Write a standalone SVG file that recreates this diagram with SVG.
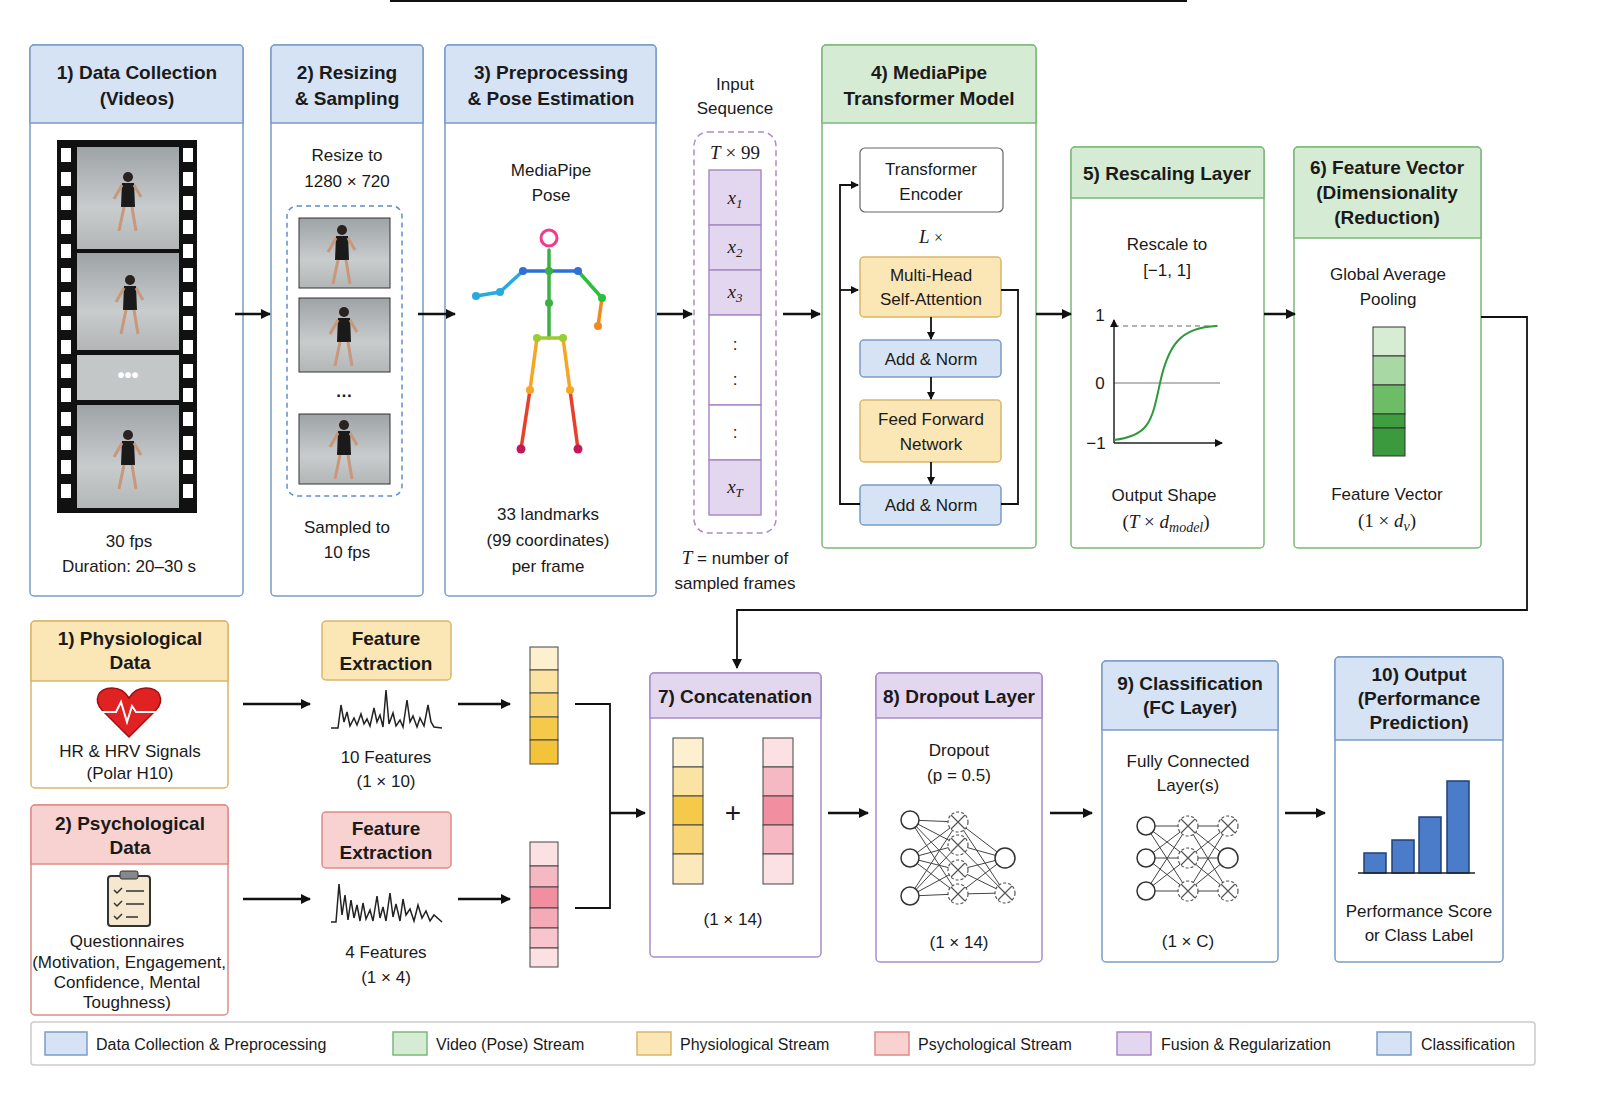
<svg xmlns="http://www.w3.org/2000/svg" width="1600" height="1101" viewBox="0 0 1600 1101">
<defs>
<marker id="ah" markerWidth="10" markerHeight="10" refX="9" refY="5" orient="auto" markerUnits="userSpaceOnUse"><path d="M0,0 L10,5 L0,10 z" fill="#111"/></marker>
<marker id="as" markerWidth="8" markerHeight="8" refX="7" refY="4" orient="auto" markerUnits="userSpaceOnUse"><path d="M0,0 L8,4 L0,8 z" fill="#111"/></marker>
<linearGradient id="ph" x1="0" y1="0" x2="0" y2="1"><stop offset="0" stop-color="#9ea3a6"/><stop offset="0.6" stop-color="#c9cccd"/><stop offset="1" stop-color="#b3b6b7"/></linearGradient>
<g id="person"><circle cx="0" cy="-28" r="5" fill="#2a2220"/><path d="M-6,-22 L6,-22 L7,2 L-7,2 Z" fill="#1a1a1a"/><path d="M-6,-20 L-14,-6 M6,-20 L13,-8 M-4,2 L-9,26 M4,2 L8,26" stroke="#c9977a" stroke-width="3" fill="none"/></g>
</defs>
<style>
text{font-family:"Liberation Sans",Arial,sans-serif;fill:#1a1a1a}
.h{font-size:19px;font-weight:bold;text-anchor:middle}
.t{font-size:17px;text-anchor:middle}
.m{font-family:"Liberation Serif","Times New Roman",serif;font-style:italic;font-size:19px;text-anchor:middle}
.box{fill:#fff;stroke-width:1.5}
.bl{stroke:#7a9cc6}.blf{fill:#d6e3f5;stroke:#7a9cc6;stroke-width:1.5}
.gr{stroke:#7cb87a}.grf{fill:#d5ebd3;stroke:#7cb87a;stroke-width:1.5}
.ye{stroke:#d9b66a}.yef{fill:#fbe6b5;stroke:#d9b66a;stroke-width:1.5}
.pk{stroke:#e08a87}.pkf{fill:#f8d2d0;stroke:#e08a87;stroke-width:1.5}
.pu{stroke:#a98cc8}.puf{fill:#e3d6ef;stroke:#a98cc8;stroke-width:1.5}
.c{stroke:#111;stroke-width:2.5;fill:none}
.cs{stroke:#111;stroke-width:1.8;fill:none}
.nn{fill:#fff;stroke:#333;stroke-width:1.5}
.nx{fill:#fff;stroke:#555;stroke-width:1.2;stroke-dasharray:3 2}
.nl{stroke:#444;stroke-width:1}
</style>
<rect width="1600" height="1101" fill="#fff"/>
<line x1="390" y1="1" x2="1187" y2="1" stroke="#111" stroke-width="2"/>

<g id="n1">
<rect class="box bl" x="30" y="45" width="213" height="551" rx="4"/>
<path class="blf" d="M34,45 H239 a4,4 0 0 1 4,4 V123 H30 V49 a4,4 0 0 1 4,-4z"/>
<text class="h" x="137" y="79">1) Data Collection</text><text class="h" x="137" y="105">(Videos)</text>
<rect x="57" y="140" width="140" height="373" fill="#111"/>
<g fill="#fff">
<rect x="61" y="148" width="10" height="14"/><rect x="61" y="172" width="10" height="14"/><rect x="61" y="196" width="10" height="14"/><rect x="61" y="220" width="10" height="14"/><rect x="61" y="244" width="10" height="14"/><rect x="61" y="268" width="10" height="14"/><rect x="61" y="292" width="10" height="14"/><rect x="61" y="316" width="10" height="14"/><rect x="61" y="340" width="10" height="14"/><rect x="61" y="364" width="10" height="14"/><rect x="61" y="388" width="10" height="14"/><rect x="61" y="412" width="10" height="14"/><rect x="61" y="436" width="10" height="14"/><rect x="61" y="460" width="10" height="14"/><rect x="61" y="484" width="10" height="14"/>
<rect x="183" y="148" width="10" height="14"/><rect x="183" y="172" width="10" height="14"/><rect x="183" y="196" width="10" height="14"/><rect x="183" y="220" width="10" height="14"/><rect x="183" y="244" width="10" height="14"/><rect x="183" y="268" width="10" height="14"/><rect x="183" y="292" width="10" height="14"/><rect x="183" y="316" width="10" height="14"/><rect x="183" y="340" width="10" height="14"/><rect x="183" y="364" width="10" height="14"/><rect x="183" y="388" width="10" height="14"/><rect x="183" y="412" width="10" height="14"/><rect x="183" y="436" width="10" height="14"/><rect x="183" y="460" width="10" height="14"/><rect x="183" y="484" width="10" height="14"/>
</g>
<rect x="77" y="147" width="102" height="102" fill="url(#ph)"/><use href="#person" x="128" y="205"/>
<rect x="77" y="253" width="102" height="97" fill="url(#ph)"/><use href="#person" x="130" y="308"/>
<rect x="77" y="355" width="102" height="45" fill="#c4c7c8"/><text x="128" y="382" font-size="20" font-weight="bold" text-anchor="middle" fill="#fff" style="fill:#fff">•••</text>
<rect x="77" y="405" width="102" height="103" fill="url(#ph)"/><use href="#person" x="128" y="463"/>
<text class="t" x="129" y="547">30 fps</text><text class="t" x="129" y="572">Duration: 20–30 s</text>
</g>

<g id="n2">
<rect class="box bl" x="271" y="45" width="152" height="551" rx="4"/>
<path class="blf" d="M275,45 H419 a4,4 0 0 1 4,4 V123 H271 V49 a4,4 0 0 1 4,-4z"/>
<text class="h" x="347" y="79">2) Resizing</text><text class="h" x="347" y="105">&amp; Sampling</text>
<text class="t" x="347" y="161">Resize to</text><text class="t" x="347" y="187">1280 × 720</text>
<rect x="287" y="206" width="115" height="290" rx="10" fill="none" stroke="#5b8fd0" stroke-width="1.5" stroke-dasharray="5 4"/>
<rect x="299" y="218" width="91" height="70" fill="url(#ph)" stroke="#333"/><use href="#person" x="342" y="258" transform="scale(1)"/>
<rect x="299" y="298" width="91" height="74" fill="url(#ph)" stroke="#333"/><use href="#person" x="344" y="340"/>
<text class="t" x="344" y="397" font-weight="bold">…</text>
<rect x="299" y="414" width="91" height="70" fill="url(#ph)" stroke="#333"/><use href="#person" x="344" y="453"/>
<text class="t" x="347" y="533">Sampled to</text><text class="t" x="347" y="558">10 fps</text>
</g>

<g id="n3">
<rect class="box bl" x="445" y="45" width="211" height="551" rx="4"/>
<path class="blf" d="M449,45 H652 a4,4 0 0 1 4,4 V123 H445 V49 a4,4 0 0 1 4,-4z"/>
<text class="h" x="551" y="79">3) Preprocessing</text><text class="h" x="551" y="105">&amp; Pose Estimation</text>
<text class="t" x="551" y="176">MediaPipe</text><text class="t" x="551" y="201">Pose</text>
<g stroke-width="3.5" stroke-linecap="round" fill="none">
<line x1="549" y1="250" x2="549" y2="271" stroke="#3cb043"/>
<line x1="523" y1="271" x2="578" y2="271" stroke="#2f6fd6"/>
<polyline points="523,271 500,292 476,296" stroke="#28a9e0"/>
<polyline points="578,271 602,298" stroke="#2bbf3f"/>
<polyline points="602,298 598,326" stroke="#f08a1c"/>
<line x1="549" y1="271" x2="549" y2="338" stroke="#3cb043"/>
<line x1="537" y1="338" x2="563" y2="338" stroke="#9acd32"/>
<polyline points="537,338 530,390" stroke="#f5a623"/><polyline points="530,390 521,449" stroke="#e8402a"/>
<polyline points="563,338 570,390" stroke="#f5a623"/><polyline points="570,390 578,449" stroke="#e8402a"/>
</g>
<circle cx="549" cy="238" r="8" fill="none" stroke="#ee3d8a" stroke-width="3"/>
<g fill="#2f6fd6"><circle cx="523" cy="271" r="4"/><circle cx="578" cy="271" r="4"/><circle cx="549" cy="271" r="4" fill="#3cb043"/><circle cx="500" cy="292" r="4" fill="#28a9e0"/><circle cx="476" cy="296" r="4" fill="#28a9e0"/><circle cx="602" cy="298" r="4" fill="#2bbf3f"/><circle cx="598" cy="326" r="4" fill="#f08a1c"/><circle cx="549" cy="303" r="4" fill="#3cb043"/><circle cx="537" cy="338" r="4" fill="#9acd32"/><circle cx="563" cy="338" r="4" fill="#9acd32"/><circle cx="530" cy="390" r="4" fill="#f5a623"/><circle cx="570" cy="390" r="4" fill="#f5a623"/><circle cx="521" cy="449" r="4.5" fill="#c2185b"/><circle cx="578" cy="449" r="4.5" fill="#c2185b"/></g>
<text class="t" x="548" y="520">33 landmarks</text><text class="t" x="548" y="546">(99 coordinates)</text><text class="t" x="548" y="572">per frame</text>
</g>

<g id="seq">
<text class="t" x="735" y="90">Input</text><text class="t" x="735" y="114">Sequence</text>
<rect x="694" y="132" width="82" height="401" rx="14" fill="none" stroke="#a98cc8" stroke-width="1.5" stroke-dasharray="6 4"/>
<text class="m" x="735" y="159"><tspan>T</tspan><tspan font-style="normal"> × 99</tspan></text>
<rect class="puf" x="709" y="170" width="52" height="55"/><text class="m" x="735" y="204">x<tspan font-size="13" dy="4">1</tspan></text>
<rect class="puf" x="709" y="225" width="52" height="45"/><text class="m" x="735" y="253">x<tspan font-size="13" dy="4">2</tspan></text>
<rect class="puf" x="709" y="270" width="52" height="45"/><text class="m" x="735" y="298">x<tspan font-size="13" dy="4">3</tspan></text>
<rect x="709" y="315" width="52" height="90" fill="#fff" stroke="#a98cc8" stroke-width="1.5"/><text class="t" x="735" y="350">:</text><text class="t" x="735" y="385">:</text>
<rect x="709" y="405" width="52" height="55" fill="#fff" stroke="#a98cc8" stroke-width="1.5"/><text class="t" x="735" y="438">:</text>
<rect class="puf" x="709" y="460" width="52" height="55"/><text class="m" x="735" y="493">x<tspan font-size="13" dy="4">T</tspan></text>
<text class="t" x="735" y="564"><tspan font-family="Liberation Serif" font-style="italic" font-size="19">T</tspan> = number of</text><text class="t" x="735" y="589">sampled frames</text>
</g>

<g id="n4">
<rect class="box gr" x="822" y="45" width="214" height="503" rx="4"/>
<path class="grf" d="M826,45 H1032 a4,4 0 0 1 4,4 V123 H822 V49 a4,4 0 0 1 4,-4z"/>
<text class="h" x="929" y="79">4) MediaPipe</text><text class="h" x="929" y="105">Transformer Model</text>
<rect x="860" y="148" width="143" height="64" rx="5" fill="#fff" stroke="#666" stroke-width="1.2"/>
<text class="t" x="931" y="175">Transformer</text><text class="t" x="931" y="200">Encoder</text>
<text class="m" x="931" y="243">L <tspan font-style="normal" font-size="16">×</tspan></text>
<rect class="yef" x="860" y="257" width="141" height="60" rx="4"/><text class="t" x="931" y="281">Multi-Head</text><text class="t" x="931" y="305">Self-Attention</text>
<rect class="blf" x="860" y="340" width="141" height="37" rx="4"/><text class="t" x="931" y="365">Add &amp; Norm</text>
<rect class="yef" x="860" y="400" width="141" height="62" rx="4"/><text class="t" x="931" y="425">Feed Forward</text><text class="t" x="931" y="450">Network</text>
<rect class="blf" x="860" y="485" width="141" height="40" rx="4"/><text class="t" x="931" y="511">Add &amp; Norm</text>
</g>

<g id="n5">
<rect class="box gr" x="1071" y="147" width="193" height="401" rx="4"/>
<path class="grf" d="M1075,147 H1260 a4,4 0 0 1 4,4 V198 H1071 V151 a4,4 0 0 1 4,-4z"/>
<text class="h" x="1167" y="180">5) Rescaling Layer</text>
<text class="t" x="1167" y="250">Rescale to</text><text class="t" x="1167" y="276">[−1, 1]</text>
<line x1="1114" y1="326" x2="1220" y2="326" stroke="#666" stroke-dasharray="5 4"/>
<line x1="1114" y1="383" x2="1220" y2="383" stroke="#777"/>
<line x1="1114" y1="443" x2="1114" y2="320" stroke="#222" stroke-width="1.5" marker-end="url(#as)"/>
<line x1="1114" y1="443" x2="1222" y2="443" stroke="#222" stroke-width="1.5" marker-end="url(#as)"/>
<path d="M1114,440 C1150,436 1152,420 1160,383 C1168,346 1180,327 1217,326" fill="none" stroke="#2e9a3a" stroke-width="2"/>
<text class="t" x="1100" y="321">1</text><text class="t" x="1100" y="389">0</text><text class="t" x="1096" y="449">−1</text>
<text class="t" x="1164" y="501">Output Shape</text>
<text class="m" x="1166" y="528"><tspan font-style="normal">(</tspan>T<tspan font-style="normal"> × </tspan>d<tspan font-size="14" dy="4">model</tspan><tspan font-style="normal" dy="-4">)</tspan></text>
</g>

<g id="n6">
<rect class="box gr" x="1294" y="147" width="187" height="401" rx="4"/>
<path class="grf" d="M1298,147 H1477 a4,4 0 0 1 4,4 V238 H1294 V151 a4,4 0 0 1 4,-4z"/>
<text class="h" x="1387" y="174">6) Feature Vector</text><text class="h" x="1387" y="199">(Dimensionality</text><text class="h" x="1387" y="224">(Reduction)</text>
<text class="t" x="1388" y="280">Global Average</text><text class="t" x="1388" y="305">Pooling</text>
<rect x="1373" y="327" width="32" height="29" fill="#d6ecd3" stroke="#333"/>
<rect x="1373" y="356" width="32" height="29" fill="#a8d8a3" stroke="#333"/>
<rect x="1373" y="385" width="32" height="29" fill="#6cbd66" stroke="#333"/>
<rect x="1373" y="414" width="32" height="14" fill="#3f9e3f" stroke="#333"/>
<rect x="1373" y="428" width="32" height="28" fill="#3a9a3d" stroke="#333"/>
<text class="t" x="1387" y="500">Feature Vector</text>
<text class="m" x="1387" y="527"><tspan font-style="normal">(1 × </tspan>d<tspan font-size="14" dy="4">v</tspan><tspan font-style="normal" dy="-4">)</tspan></text>
</g>

<g id="p1">
<rect class="box ye" x="31" y="621" width="197" height="167" rx="4"/>
<path class="yef" d="M35,621 H224 a4,4 0 0 1 4,4 V681 H31 V625 a4,4 0 0 1 4,-4z"/>
<text class="h" x="130" y="645">1) Physiological</text><text class="h" x="130" y="669">Data</text>
<path d="M129,737 L102,710 C93,700 98,688 112,688 C120,688 126,693 129,698 C132,693 138,688 146,688 C160,688 165,700 156,710 Z" fill="#e02222" stroke="#a01010" stroke-width="1.5"/>
<polyline points="102,712 116,712 121,702 127,722 132,706 136,712 156,712" fill="none" stroke="#fff" stroke-width="2"/>
<text class="t" x="130" y="757">HR &amp; HRV Signals</text><text class="t" x="130" y="779" font-size="16">(Polar H10)</text>
</g>

<g id="p2">
<rect class="box pk" x="31" y="805" width="197" height="210" rx="4"/>
<path class="pkf" d="M35,805 H224 a4,4 0 0 1 4,4 V864 H31 V809 a4,4 0 0 1 4,-4z"/>
<text class="h" x="130" y="830">2) Psychological</text><text class="h" x="130" y="854">Data</text>
<rect x="108" y="876" width="42" height="50" rx="3" fill="#f5e8cf" stroke="#333" stroke-width="2"/>
<rect x="120" y="871" width="18" height="8" rx="2" fill="#888" stroke="#333"/>
<g stroke="#333" stroke-width="1.5" fill="none"><path d="M114,890 l3,3 l5,-5 M126,891 h18 M114,903 l3,3 l5,-5 M126,904 h18 M114,916 l3,3 l5,-5 M126,917 h12"/></g>
<text class="t" x="127" y="947" font-size="16">Questionnaires</text>
<text class="t" x="129" y="968" font-size="16">(Motivation, Engagement,</text>
<text class="t" x="127" y="988" font-size="16">Confidence, Mental</text>
<text class="t" x="127" y="1008" font-size="16">Toughness)</text>
</g>

<g id="fe1">
<rect class="yef" x="322" y="621" width="129" height="59" rx="4"/>
<text class="h" x="386" y="645">Feature</text><text class="h" x="386" y="670">Extraction</text>
<polyline points="331,728 338,728 341,705 344,722 347,712 350,726 354,718 357,725 361,714 364,724 367,719 370,726 374,708 377,722 380,715 383,727 386,690 389,724 393,713 396,726 400,720 403,727 407,700 410,722 413,716 417,727 420,718 424,726 428,705 431,722 434,727 442,728" fill="none" stroke="#222" stroke-width="1.5"/>
<text class="t" x="386" y="763">10 Features</text><text class="t" x="386" y="787">(1 × 10)</text>
</g>
<g id="fe2">
<rect class="pkf" x="322" y="812" width="129" height="56" rx="4"/>
<text class="h" x="386" y="835">Feature</text><text class="h" x="386" y="859">Extraction</text>
<polyline points="331,922 336,922 339,884 342,915 345,895 348,920 351,900 354,918 357,905 360,921 363,903 366,919 370,910 373,921 377,896 380,918 383,907 386,921 390,893 393,917 396,904 400,921 403,899 406,915 410,909 414,921 418,905 422,918 426,911 430,921 434,915 442,922" fill="none" stroke="#222" stroke-width="1.5"/>
<text class="t" x="386" y="958">4 Features</text><text class="t" x="386" y="983">(1 × 4)</text>
</g>

<g id="v1">
<rect x="530" y="647" width="28" height="23" fill="#fdf0cf" stroke="#444"/>
<rect x="530" y="670" width="28" height="23" fill="#fbe3a3" stroke="#444"/>
<rect x="530" y="693" width="28" height="24" fill="#f8d576" stroke="#444"/>
<rect x="530" y="717" width="28" height="23" fill="#f5c94a" stroke="#444"/>
<rect x="530" y="740" width="28" height="24" fill="#f3c33a" stroke="#444"/>
</g>
<g id="v2">
<rect x="530" y="842" width="28" height="24" fill="#fbe1e4" stroke="#444"/>
<rect x="530" y="866" width="28" height="21" fill="#f6b9c3" stroke="#444"/>
<rect x="530" y="887" width="28" height="21" fill="#f18ea0" stroke="#444"/>
<rect x="530" y="908" width="28" height="20" fill="#f5aab7" stroke="#444"/>
<rect x="530" y="928" width="28" height="20" fill="#f8c4cd" stroke="#444"/>
<rect x="530" y="948" width="28" height="19" fill="#fbe1e4" stroke="#444"/>
</g>

<g id="n7">
<rect class="box pu" x="650" y="673" width="171" height="284" rx="4"/>
<path class="puf" d="M654,673 H817 a4,4 0 0 1 4,4 V718 H650 V677 a4,4 0 0 1 4,-4z"/>
<text class="h" x="735" y="703">7) Concatenation</text>
<rect x="673" y="738" width="30" height="29" fill="#fdf0cf" stroke="#444"/>
<rect x="673" y="767" width="30" height="29" fill="#fbe3a3" stroke="#444"/>
<rect x="673" y="796" width="30" height="29" fill="#f5c94a" stroke="#444"/>
<rect x="673" y="825" width="30" height="29" fill="#f8d576" stroke="#444"/>
<rect x="673" y="854" width="30" height="30" fill="#fbe8bb" stroke="#444"/>
<text x="733" y="822" font-size="28" text-anchor="middle">+</text>
<rect x="763" y="738" width="30" height="29" fill="#fbe1e4" stroke="#444"/>
<rect x="763" y="767" width="30" height="29" fill="#f6b9c3" stroke="#444"/>
<rect x="763" y="796" width="30" height="29" fill="#f18ea0" stroke="#444"/>
<rect x="763" y="825" width="30" height="29" fill="#f6b9c3" stroke="#444"/>
<rect x="763" y="854" width="30" height="30" fill="#fbe1e4" stroke="#444"/>
<text class="t" x="733" y="925">(1 × 14)</text>
</g>

<g id="n8">
<rect class="box pu" x="876" y="673" width="166" height="289" rx="4"/>
<path class="puf" d="M880,673 H1038 a4,4 0 0 1 4,4 V718 H876 V677 a4,4 0 0 1 4,-4z"/>
<text class="h" x="959" y="703">8) Dropout Layer</text>
<text class="t" x="959" y="756">Dropout</text><text class="t" x="959" y="781">(p = 0.5)</text>
<g class="nl">
<path d="M910,820 L958,822 M910,820 L958,845 M910,820 L958,870 M910,820 L958,894 M910,858 L958,822 M910,858 L958,845 M910,858 L958,870 M910,858 L958,894 M910,896 L958,822 M910,896 L958,845 M910,896 L958,870 M910,896 L958,894 M958,822 L1005,858 M958,845 L1005,858 M958,870 L1005,858 M958,894 L1005,858 M958,822 L1005,893 M958,845 L1005,893 M958,870 L1005,893 M958,894 L1005,893"/>
</g>
<circle class="nn" cx="910" cy="820" r="9"/><circle class="nn" cx="910" cy="858" r="9"/><circle class="nn" cx="910" cy="896" r="9"/>
<g><circle class="nx" cx="958" cy="822" r="10"/><circle class="nx" cx="958" cy="845" r="10"/><circle class="nx" cx="958" cy="870" r="10"/><circle class="nx" cx="958" cy="894" r="10"/><circle class="nn" cx="1005" cy="858" r="10"/><circle class="nx" cx="1005" cy="893" r="10"/></g>
<path d="M951,815 l14,14 M965,815 l-14,14 M951,838 l14,14 M965,838 l-14,14 M951,863 l14,14 M965,863 l-14,14 M951,887 l14,14 M965,887 l-14,14 M998,886 l14,14 M1012,886 l-14,14" stroke="#555" stroke-width="1.2"/>
<text class="t" x="959" y="948">(1 × 14)</text>
</g>

<g id="n9">
<rect class="box bl" x="1102" y="661" width="176" height="301" rx="4"/>
<path class="blf" d="M1106,661 H1274 a4,4 0 0 1 4,4 V730 H1102 V665 a4,4 0 0 1 4,-4z"/>
<text class="h" x="1190" y="690">9) Classification</text><text class="h" x="1190" y="714">(FC Layer)</text>
<text class="t" x="1188" y="767">Fully Connected</text><text class="t" x="1188" y="791">Layer(s)</text>
<path class="nl" d="M1146,826 L1188,826 M1146,826 L1188,858 M1146,826 L1188,891 M1146,858 L1188,826 M1146,858 L1188,858 M1146,858 L1188,891 M1146,891 L1188,826 M1146,891 L1188,858 M1146,891 L1188,891 M1188,826 L1228,826 M1188,826 L1228,858 M1188,826 L1228,891 M1188,858 L1228,826 M1188,858 L1228,858 M1188,858 L1228,891 M1188,891 L1228,826 M1188,891 L1228,858 M1188,891 L1228,891"/>
<circle class="nn" cx="1146" cy="826" r="9"/><circle class="nn" cx="1146" cy="858" r="9"/><circle class="nn" cx="1146" cy="891" r="9"/>
<circle class="nx" cx="1188" cy="826" r="10"/><circle class="nx" cx="1188" cy="858" r="10"/><circle class="nx" cx="1188" cy="891" r="10"/>
<circle class="nx" cx="1228" cy="826" r="10"/><circle class="nn" cx="1228" cy="858" r="10"/><circle class="nx" cx="1228" cy="891" r="10"/>
<path d="M1181,819 l14,14 M1195,819 l-14,14 M1181,851 l14,14 M1195,851 l-14,14 M1181,884 l14,14 M1195,884 l-14,14 M1221,819 l14,14 M1235,819 l-14,14 M1221,884 l14,14 M1235,884 l-14,14" stroke="#555" stroke-width="1.2"/>
<text class="t" x="1188" y="947">(1 × C)</text>
</g>

<g id="n10">
<rect class="box bl" x="1335" y="657" width="168" height="305" rx="4"/>
<path class="blf" d="M1339,657 H1499 a4,4 0 0 1 4,4 V740 H1335 V661 a4,4 0 0 1 4,-4z"/>
<text class="h" x="1419" y="681">10) Output</text><text class="h" x="1419" y="705">(Performance</text><text class="h" x="1419" y="729">Prediction)</text>
<g fill="#4a7cc9" stroke="#1f3f78" stroke-width="1.5">
<rect x="1364" y="853" width="22" height="20"/><rect x="1392" y="840" width="22" height="33"/><rect x="1419" y="817" width="22" height="56"/><rect x="1447" y="781" width="22" height="92"/>
</g>
<line x1="1358" y1="873" x2="1475" y2="873" stroke="#222" stroke-width="1.5"/>
<text class="t" x="1419" y="917">Performance Score</text><text class="t" x="1419" y="941">or Class Label</text>
</g>

<g id="connectors">
<line class="c" x1="235" y1="314" x2="270" y2="314" marker-end="url(#ah)"/>
<line class="c" x1="418" y1="314" x2="455" y2="314" marker-end="url(#ah)"/>
<line class="c" x1="657" y1="314" x2="692" y2="314" marker-end="url(#ah)"/>
<line class="c" x1="783" y1="314" x2="820" y2="314" marker-end="url(#ah)"/>
<line class="c" x1="1036" y1="314" x2="1071" y2="314" marker-end="url(#ah)"/>
<line class="c" x1="1264" y1="314" x2="1295" y2="314" marker-end="url(#ah)"/>
<polyline class="cs" points="1481,317 1527,317 1527,610 737,610 737,668" marker-end="url(#ah)"/>
<polyline class="cs" points="860,504 840,504 840,185 858,185" marker-end="url(#as)"/>
<line class="cs" x1="840" y1="290" x2="858" y2="290" marker-end="url(#as)"/>
<polyline class="cs" points="1001,290 1018,290 1018,504 1001,504"/>
<line class="cs" x1="931" y1="317" x2="931" y2="339" marker-end="url(#as)"/>
<line class="cs" x1="931" y1="377" x2="931" y2="399" marker-end="url(#as)"/>
<line class="cs" x1="931" y1="462" x2="931" y2="484" marker-end="url(#as)"/>
<line class="c" x1="243" y1="704" x2="310" y2="704" marker-end="url(#ah)"/>
<line class="c" x1="243" y1="899" x2="310" y2="899" marker-end="url(#ah)"/>
<line class="c" x1="458" y1="704" x2="510" y2="704" marker-end="url(#ah)"/>
<line class="c" x1="458" y1="899" x2="510" y2="899" marker-end="url(#ah)"/>
<polyline class="cs" points="575,704 610,704 610,908 575,908"/>
<line class="c" x1="610" y1="813" x2="645" y2="813" marker-end="url(#ah)"/>
<line class="c" x1="828" y1="813" x2="868" y2="813" marker-end="url(#ah)"/>
<line class="c" x1="1050" y1="813" x2="1092" y2="813" marker-end="url(#ah)"/>
<line class="c" x1="1285" y1="813" x2="1325" y2="813" marker-end="url(#ah)"/>
</g>

<g id="legend">
<rect x="31" y="1022" width="1504" height="43" rx="3" fill="#fff" stroke="#ccc" stroke-width="1.5"/>
<rect class="blf" x="45" y="1032" width="42" height="23"/><text x="96" y="1050" font-size="16">Data Collection &amp; Preprocessing</text>
<rect class="grf" x="393" y="1032" width="34" height="23"/><text x="436" y="1050" font-size="16">Video (Pose) Stream</text>
<rect class="yef" x="637" y="1032" width="34" height="23"/><text x="680" y="1050" font-size="16">Physiological Stream</text>
<rect class="pkf" x="875" y="1032" width="34" height="23"/><text x="918" y="1050" font-size="16">Psychological Stream</text>
<rect class="puf" x="1117" y="1032" width="34" height="23"/><text x="1161" y="1050" font-size="16">Fusion &amp; Regularization</text>
<rect class="blf" x="1377" y="1032" width="34" height="23"/><text x="1421" y="1050" font-size="16">Classification</text>
</g>
</svg>
